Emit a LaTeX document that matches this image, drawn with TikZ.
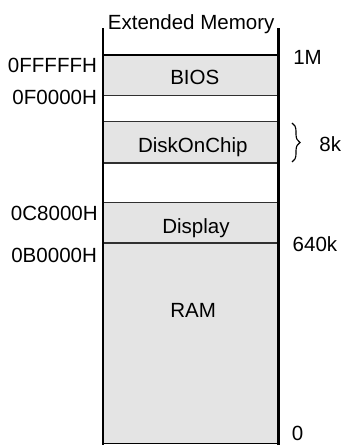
\documentclass[tikz,border=0pt]{standalone}
\usepackage{fontspec}
\setmainfont{Liberation Sans}
\usepackage{xcolor}
\usetikzlibrary{decorations.pathreplacing}
\definecolor{memgray}{HTML}{E4E4E4}
\definecolor{linegray}{HTML}{303030}

\begin{document}
\begin{tikzpicture}[scale=1,
    band/.style={fill=memgray,draw=linegray,line width=0.9pt},
    frame/.style={line width=2.1pt},
    lbl/.style={font=\fontsize{14.6}{17}\selectfont,inner sep=0pt}]
    \useasboundingbox (0,0) rectangle (8.525,11.125);
    \filldraw[band] (2.575,8.7325) rectangle (6.96,9.75);
    \filldraw[band] (2.575,7.05) rectangle (6.96,8.0825);
    \filldraw[band] (2.575,5.05) rectangle (6.96,6.0575);
    \filldraw[band] (2.575,0.04) rectangle (6.96,5.05);
    \draw[frame] (2.575,10.42) -- (2.575,-0.1);
    \draw[frame] (6.96,10.42) -- (6.96,-0.1);
    \draw[frame] (2.575,9.75) -- (6.96,9.75);
    \draw[line width=1.2pt] (2.575,0.04) -- (6.96,0.04);
    \node[lbl,anchor=base] (ext) at (4.78,10.375) {Extended Memory};
    \node[lbl,anchor=base] (bios) at (4.87,9.0) {BIOS};
    \node[lbl,anchor=base] (doc) at (4.82,7.32) {DiskOnChip};
    \node[lbl,anchor=base] (disp) at (4.9,5.275) {Display};
    \node[lbl,anchor=base] (ram) at (4.83,3.19) {RAM};
    \node[lbl,anchor=base east] (a1) at (2.43,9.3175) {0FFFFFH};
    \node[lbl,anchor=base east] (a2) at (2.43,8.5) {0F0000H};
    \node[lbl,anchor=base east] (a3) at (2.45,5.6) {0C8000H};
    \node[lbl,anchor=base east] (a4) at (2.43,4.55) {0B0000H};
    \node[lbl,anchor=base west] (s1) at (7.325,9.5) {1M};
    \node[lbl,anchor=base west] (s2) at (7.31,4.83) {640k};
    \node[lbl,anchor=base west] (s3) at (7.29,0.12) {0};
    \coordinate (bt) at (7.3,8.05);
    \coordinate (bb) at (7.3,7.075);
    \draw[line width=0.8pt,decorate,decoration={brace,amplitude=0.2cm}] (bt) -- (bb);
    \node[lbl,anchor=base west] (s4) at (7.98,7.33) {8k};
\end{tikzpicture}
\end{document}
